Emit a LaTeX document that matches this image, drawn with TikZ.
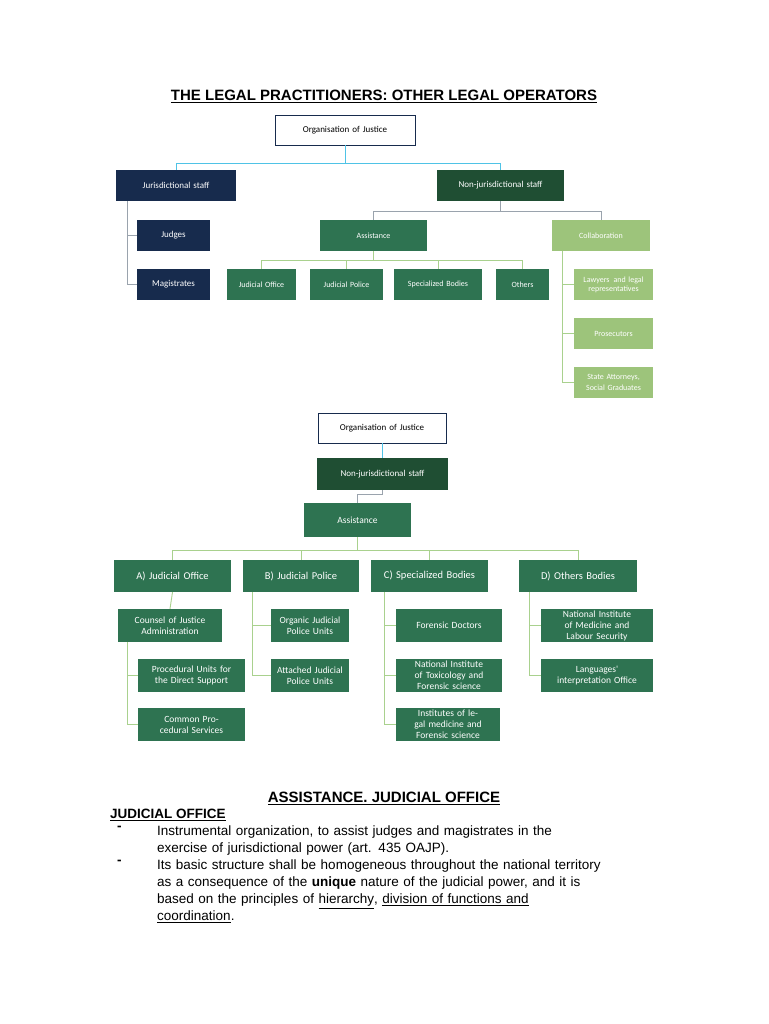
\documentclass[tikz,border=0pt]{standalone}
\usepackage{fontspec}
\setmainfont{Liberation Sans}
\newfontfamily\calfnt{Carlito}
\definecolor{navy}{HTML}{172B4D}
\definecolor{dgreen}{HTML}{1F4E33}
\definecolor{mgreen}{HTML}{2E7351}
\definecolor{lgreen}{HTML}{9DC47B}
\definecolor{cyanl}{HTML}{4FC3E6}
\definecolor{greyl}{HTML}{9AA3AD}
\definecolor{gline}{HTML}{A9D18E}
\newcommand{\bx}[7]{\node[#6,minimum width={#4-#2},minimum height={#5-#3},text width={#4-#2-2},inner sep=0pt] (#1) at ({(#2+#4)/2},{(#3+#5)/2}) {#7};}
\begin{document}
\begin{tikzpicture}[x=1pt,y=-1pt,
  nv/.style={fill=navy,text=white,align=center,font=\calfnt\fontsize{9}{10}\selectfont},
  dg/.style={fill=dgreen,text=white,align=center,font=\calfnt\fontsize{9}{10}\selectfont},
  mg/.style={fill=mgreen,text=white,align=center,font=\calfnt\fontsize{8}{9}\selectfont},
  lg/.style={fill=lgreen,text=white,align=center,font=\calfnt\fontsize{8}{9}\selectfont},
  wb/.style={fill=white,draw=navy,line width=0.8pt,align=center,font=\calfnt\fontsize{9}{10}\selectfont},
  bg/.style={fill=mgreen,text=white,align=center,font=\calfnt\fontsize{10.5}{11}\selectfont},
  bs/.style={fill=mgreen,text=white,align=center,font=\calfnt\fontsize{9.5}{11}\selectfont},
  cl/.style={draw=cyanl,line width=0.9pt},
  gl/.style={draw=greyl,line width=0.9pt},
  ll/.style={draw=gline,line width=0.9pt}]
\useasboundingbox[fill=white] (0,0) rectangle (768,1024);
\node[font=\bfseries\fontsize{15}{17}\selectfont] (title) at (384,96) {\underline{THE LEGAL PRACTITIONERS: OTHER LEGAL OPERATORS}};
% top diagram
\bx{org}{275}{115}{415}{145}{wb}{Organisation of Justice}
\bx{js}{116}{170}{236}{201}{nv}{Jurisdictional staff}
\bx{njs}{437}{170}{564}{201}{dg}{Non-jurisdictional staff}
\bx{jud}{137}{220}{210}{251}{nv}{Judges}
\bx{mag}{137}{269}{210}{300}{nv}{Magistrates}
\bx{ass}{320}{220}{427}{251}{mg}{Assistance}
\bx{col}{552}{220}{650}{251}{lg}{Collaboration}
\bx{jo}{227}{269}{296}{300}{mg}{Judicial Office}
\bx{jp}{310}{269}{383}{300}{mg}{Judicial Police}
\bx{sb}{394}{269}{482}{300}{mg}{Specialized Bodies}
\bx{ot}{496}{269}{549}{300}{mg}{Others}
\bx{law}{574}{269}{653}{300}{lg}{Lawyers\, and legal representatives}
\bx{pro}{574}{318}{653}{349}{lg}{Prosecutors}
\bx{sta}{574}{367}{653}{398}{lg}{State Attorneys,\\[2pt] Social Graduates}
\draw[cl] (org.south) -- ++(0,18) -| (js.north);
\draw[cl] (org.south) -- ++(0,18) -| (njs.north);
\draw[gl] ([xshift=12pt]js.south west) |- (jud.west);
\draw[gl] ([xshift=12pt]js.south west) |- (mag.west);
\draw[gl] (njs.south) -- ++(0,10) -| (ass.north);
\draw[gl] (njs.south) -- ++(0,10) -| (col.north);
\foreach \n in {jo,jp,sb,ot} \draw[ll] (ass.south) -- ++(0,9) -| (\n.north);
\foreach \n in {law,pro,sta} \draw[ll] ([xshift=11pt]col.south west) |- (\n.west);
% bottom diagram
\bx{org2}{318}{413}{446}{443}{wb}{Organisation of Justice}
\bx{njs2}{317}{458}{448}{490}{dg}{Non-jurisdictional staff}
\bx{ass2}{304}{503}{411}{537}{bs}{Assistance}
\bx{A}{114}{560}{231}{592}{bg}{A) Judicial Office}
\bx{B}{243}{560}{359}{592}{bg}{B) Judicial Police}
\bx{C}{371}{560}{488}{592}{bg}{C) Specialized Bodies}
\bx{D}{519}{560}{637}{592}{bg}{D) Others Bodies}
\bx{a1}{118}{609}{222}{642}{bs}{Counsel of Justice Administration}
\bx{a2}{138}{659}{245}{692}{bs}{Procedural Units for the Direct Support}
\bx{a3}{138}{708}{245}{741}{bs}{Common Procedural Services}
\bx{b1}{271}{609}{349}{642}{bs}{Organic Judicial Police Units}
\bx{b2}{271}{659}{349}{692}{bs}{Attached Judicial Police Units}
\bx{c1}{396}{609}{502}{642}{bs}{Forensic Doctors}
\bx{c2}{396}{659}{502}{692}{bs}{National Institute of Toxicology and Forensic science}
\bx{c3}{396}{708}{500}{741}{bs}{Institutes of legal medicine and Forensic science}
\bx{d1}{541}{609}{653}{642}{bs}{National Institute of Medicine and Labour Security}
\bx{d2}{541}{659}{653}{692}{bs}{Languages'\\ interpretation Office}
\draw[cl] (org2.south) -- ++(0,3) -| (njs2.north);
\draw[gl] (njs2.south) -- ++(0,4) -| (ass2.north);
\foreach \n in {A,B,C,D} \draw[ll] (ass2.south) -- ++(0,13) -| (\n.north);
\draw[ll] (A.south) -- (a1.north);
\foreach \n in {a2,a3} \draw[ll] ([xshift=10pt]a1.south west) |- (\n.west);
\foreach \n in {b1,b2} \draw[ll] ([xshift=10pt]B.south west) |- (\n.west);
\foreach \n in {c1,c2,c3} \draw[ll] ([xshift=14pt]C.south west) |- (\n.west);
\foreach \n in {d1,d2} \draw[ll] ([xshift=11pt]D.south west) |- (\n.west);
% text
\node[font=\bfseries\fontsize{15}{17}\selectfont] (h2) at (384,798) {\underline{ASSISTANCE. JUDICIAL OFFICE}};
\node[font=\bfseries\fontsize{13.5}{16}\selectfont,anchor=west,inner sep=0pt] (h3) at (110,815) {\underline{JUDICIAL OFFICE}};
\node[anchor=north west,inner sep=0pt,text width=501pt,font=\fontsize{13.5}{16.8}\selectfont] (p1) at (157,826) {Instrumental organization, to assist judges and magistrates in the\linebreak exercise of jurisdictional power (art. 435 OAJP).};
\node[anchor=north west,inner sep=0pt,text width=501pt,font=\fontsize{13.5}{16.8}\selectfont] (p2) at (157,860) {Its basic structure shall be homogeneous throughout the national territory\linebreak as a consequence of the \textbf{unique} nature of the judicial power, and it is\linebreak based on the principles of \underline{hierarchy}, \underline{division of functions and}\linebreak \underline{coordination}.};
\node[font=\bfseries\fontsize{13.5}{16}\selectfont,anchor=north west,inner sep=0pt] (d1b) at (117,826) {-};
\node[font=\bfseries\fontsize{13.5}{16}\selectfont,anchor=north west,inner sep=0pt] (d2b) at (117,860) {-};
\end{tikzpicture}
\end{document}
